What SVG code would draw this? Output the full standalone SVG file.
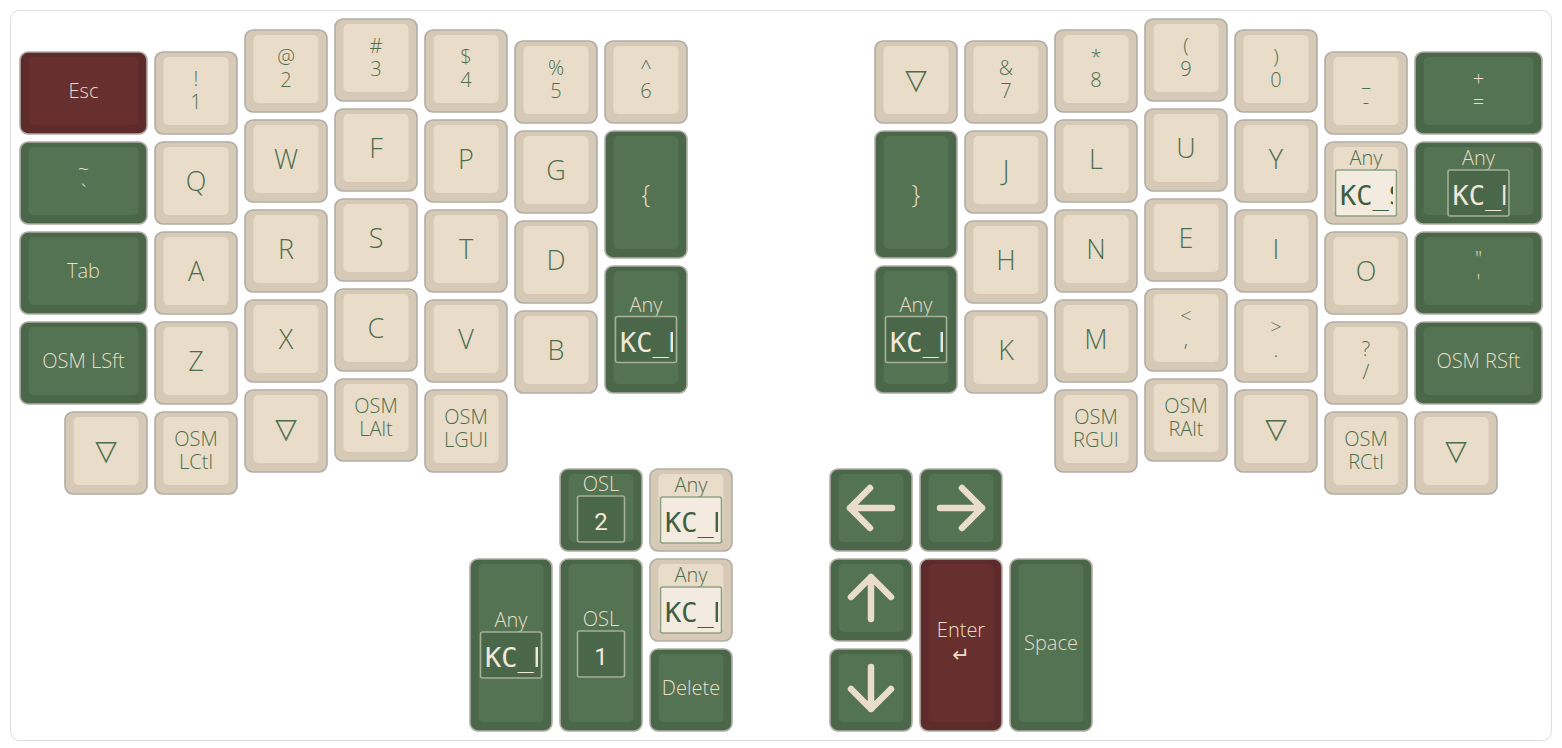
<svg xmlns="http://www.w3.org/2000/svg" width="1562" height="748" viewBox="0 0 1562 748">
<style>
.ko{stroke:#b1ada7;stroke-width:1.6}
.c .ko{fill:#d6cab6}.c .ki{fill:#e9ddc9}.c text{fill:#4e6e4d}
.g .ko{fill:#4b6749}.g .ki{fill:#537352}.g text{fill:#e9ddc9}
.r .ko{fill:#5d2b2b}.r .ki{fill:#682f2f}.r text{fill:#e9ddc9}
text{font-family:"Open Sans","Liberation Sans",sans-serif;font-weight:300;text-anchor:middle}
.big{font-size:27px}.sm{font-size:20px}.br{font-size:25px}
.mono{font-family:"DejaVu Sans Mono","Liberation Mono",monospace;font-weight:400;font-size:27px;text-anchor:start}
.num{font-family:Roboto,"Liberation Sans",sans-serif;font-weight:400;font-size:24px}
.tri{font-family:"DejaVu Sans",sans-serif;font-weight:400;font-size:28px}
.sym{font-family:"DejaVu Sans",sans-serif;font-weight:400;font-size:21px}
.c .kb{fill:#f3ebdf;stroke:#8ea184;stroke-width:1.6}.c text.mono{fill:#3f5f3f}
.g .kb{fill:#4b6749;stroke:#a5b096;stroke-width:1.6}.g text.mono,.g text.num{fill:#f1e8da}
.arr{fill:none;stroke:#e9ddc9;stroke-width:6.5;stroke-linecap:round;stroke-linejoin:round}
</style>
<rect x="10.5" y="10.5" width="1541" height="730" rx="9" fill="#fff" stroke="#dcdcdc"/>

<!-- left col0 -->
<g id="k-esc" class="r"><rect class="ko" x="20" y="52" width="127" height="82" rx="8"/><rect class="ki" x="28.5" y="57" width="110" height="68" rx="5"/><text class="sm" x="83.5" y="98">Esc</text></g>
<g id="k-tilde" class="g"><rect class="ko" x="20" y="142" width="127" height="82" rx="8"/><rect class="ki" x="28.5" y="147" width="110" height="68" rx="5"/><text class="sm"><tspan x="83.5" y="175.5">~</tspan><tspan x="83.5" y="199">`</tspan></text></g>
<g id="k-tab" class="g"><rect class="ko" x="20" y="232" width="127" height="82" rx="8"/><rect class="ki" x="28.5" y="237" width="110" height="68" rx="5"/><text class="sm" x="83.5" y="278">Tab</text></g>
<g id="k-lsft" class="g"><rect class="ko" x="20" y="322" width="127" height="82" rx="8"/><rect class="ki" x="28.5" y="327" width="110" height="68" rx="5"/><text class="sm" x="83.5" y="368">OSM LSft</text></g>
<g id="k-ltri1" class="c"><rect class="ko" x="65" y="412" width="82" height="82" rx="8"/><rect class="ki" x="73.5" y="417" width="65" height="68" rx="5"/><text class="tri" x="106" y="460">▽</text></g>

<!-- col1 -->
<g id="k-1" class="c"><rect class="ko" x="155" y="52" width="82" height="82" rx="8"/><rect class="ki" x="163.5" y="57" width="65" height="68" rx="5"/><text class="sm"><tspan x="196" y="85.5">!</tspan><tspan x="196" y="109">1</tspan></text></g>
<g id="k-q" class="c"><rect class="ko" x="155" y="142" width="82" height="82" rx="8"/><rect class="ki" x="163.5" y="147" width="65" height="68" rx="5"/><text class="big" x="196" y="190.5">Q</text></g>
<g id="k-a" class="c"><rect class="ko" x="155" y="232" width="82" height="82" rx="8"/><rect class="ki" x="163.5" y="237" width="65" height="68" rx="5"/><text class="big" x="196" y="280.5">A</text></g>
<g id="k-z" class="c"><rect class="ko" x="155" y="322" width="82" height="82" rx="8"/><rect class="ki" x="163.5" y="327" width="65" height="68" rx="5"/><text class="big" x="196" y="370.5">Z</text></g>
<g id="k-lctl" class="c"><rect class="ko" x="155" y="412" width="82" height="82" rx="8"/><rect class="ki" x="163.5" y="417" width="65" height="68" rx="5"/><text class="sm"><tspan x="196" y="445.5">OSM</tspan><tspan x="196" y="469">LCtl</tspan></text></g>

<!-- col2 -->
<g id="k-2" class="c"><rect class="ko" x="245" y="30" width="82" height="82" rx="8"/><rect class="ki" x="253.5" y="35" width="65" height="68" rx="5"/><text class="sm"><tspan x="286" y="63.5">@</tspan><tspan x="286" y="87">2</tspan></text></g>
<g id="k-w" class="c"><rect class="ko" x="245" y="120" width="82" height="82" rx="8"/><rect class="ki" x="253.5" y="125" width="65" height="68" rx="5"/><text class="big" x="286" y="168.5">W</text></g>
<g id="k-r" class="c"><rect class="ko" x="245" y="210" width="82" height="82" rx="8"/><rect class="ki" x="253.5" y="215" width="65" height="68" rx="5"/><text class="big" x="286" y="258.5">R</text></g>
<g id="k-x" class="c"><rect class="ko" x="245" y="300" width="82" height="82" rx="8"/><rect class="ki" x="253.5" y="305" width="65" height="68" rx="5"/><text class="big" x="286" y="348.5">X</text></g>
<g id="k-ltri2" class="c"><rect class="ko" x="245" y="390" width="82" height="82" rx="8"/><rect class="ki" x="253.5" y="395" width="65" height="68" rx="5"/><text class="tri" x="286" y="438">▽</text></g>

<!-- col3 -->
<g id="k-3" class="c"><rect class="ko" x="335" y="19" width="82" height="82" rx="8"/><rect class="ki" x="343.5" y="24" width="65" height="68" rx="5"/><text class="sm"><tspan x="376" y="52.5">#</tspan><tspan x="376" y="76">3</tspan></text></g>
<g id="k-f" class="c"><rect class="ko" x="335" y="109" width="82" height="82" rx="8"/><rect class="ki" x="343.5" y="114" width="65" height="68" rx="5"/><text class="big" x="376" y="157.5">F</text></g>
<g id="k-s" class="c"><rect class="ko" x="335" y="199" width="82" height="82" rx="8"/><rect class="ki" x="343.5" y="204" width="65" height="68" rx="5"/><text class="big" x="376" y="247.5">S</text></g>
<g id="k-c" class="c"><rect class="ko" x="335" y="289" width="82" height="82" rx="8"/><rect class="ki" x="343.5" y="294" width="65" height="68" rx="5"/><text class="big" x="376" y="337.5">C</text></g>
<g id="k-lalt" class="c"><rect class="ko" x="335" y="379" width="82" height="82" rx="8"/><rect class="ki" x="343.5" y="384" width="65" height="68" rx="5"/><text class="sm"><tspan x="376" y="412.5">OSM</tspan><tspan x="376" y="436">LAlt</tspan></text></g>

<!-- col4 -->
<g id="k-4" class="c"><rect class="ko" x="425" y="30" width="82" height="82" rx="8"/><rect class="ki" x="433.5" y="35" width="65" height="68" rx="5"/><text class="sm"><tspan x="466" y="63.5">$</tspan><tspan x="466" y="87">4</tspan></text></g>
<g id="k-p" class="c"><rect class="ko" x="425" y="120" width="82" height="82" rx="8"/><rect class="ki" x="433.5" y="125" width="65" height="68" rx="5"/><text class="big" x="466" y="168.5">P</text></g>
<g id="k-t" class="c"><rect class="ko" x="425" y="210" width="82" height="82" rx="8"/><rect class="ki" x="433.5" y="215" width="65" height="68" rx="5"/><text class="big" x="466" y="258.5">T</text></g>
<g id="k-v" class="c"><rect class="ko" x="425" y="300" width="82" height="82" rx="8"/><rect class="ki" x="433.5" y="305" width="65" height="68" rx="5"/><text class="big" x="466" y="348.5">V</text></g>
<g id="k-lgui" class="c"><rect class="ko" x="425" y="390" width="82" height="82" rx="8"/><rect class="ki" x="433.5" y="395" width="65" height="68" rx="5"/><text class="sm"><tspan x="466" y="423.5">OSM</tspan><tspan x="466" y="447">LGUI</tspan></text></g>

<!-- col5 -->
<g id="k-5" class="c"><rect class="ko" x="515" y="41" width="82" height="82" rx="8"/><rect class="ki" x="523.5" y="46" width="65" height="68" rx="5"/><text class="sm"><tspan x="556" y="74.5">%</tspan><tspan x="556" y="98">5</tspan></text></g>
<g id="k-g" class="c"><rect class="ko" x="515" y="131" width="82" height="82" rx="8"/><rect class="ki" x="523.5" y="136" width="65" height="68" rx="5"/><text class="big" x="556" y="179.5">G</text></g>
<g id="k-d" class="c"><rect class="ko" x="515" y="221" width="82" height="82" rx="8"/><rect class="ki" x="523.5" y="226" width="65" height="68" rx="5"/><text class="big" x="556" y="269.5">D</text></g>
<g id="k-b" class="c"><rect class="ko" x="515" y="311" width="82" height="82" rx="8"/><rect class="ki" x="523.5" y="316" width="65" height="68" rx="5"/><text class="big" x="556" y="359.5">B</text></g>

<!-- col6 -->
<g id="k-6" class="c"><rect class="ko" x="605" y="41" width="82" height="82" rx="8"/><rect class="ki" x="613.5" y="46" width="65" height="68" rx="5"/><text class="sm"><tspan x="646" y="74.5">^</tspan><tspan x="646" y="98">6</tspan></text></g>
<g id="k-lbrc" class="g"><rect class="ko" x="605" y="131" width="82" height="127" rx="8"/><rect class="ki" x="613.5" y="136" width="65" height="113" rx="5"/><text class="br" x="646" y="203">{</text></g>
<g id="k-lany" class="g"><rect class="ko" x="605" y="266" width="82" height="127" rx="8"/><rect class="ki" x="613.5" y="271" width="65" height="113" rx="5"/><text class="sm" x="646" y="311.5">Any</text><rect class="kb" x="615.5" y="316.5" width="61" height="46" rx="2"/><svg x="615.5" y="316.5" width="57.5" height="46"><text class="mono" x="4.5" y="35">KC_NO</text></svg></g>

<!-- right R0 -->
<g id="k-rtri1" class="c"><rect class="ko" x="875" y="41" width="82" height="82" rx="8"/><rect class="ki" x="883.5" y="46" width="65" height="68" rx="5"/><text class="tri" x="916" y="89">▽</text></g>
<g id="k-rbrc" class="g"><rect class="ko" x="875" y="131" width="82" height="127" rx="8"/><rect class="ki" x="883.5" y="136" width="65" height="113" rx="5"/><text class="br" x="916" y="203">}</text></g>
<g id="k-rany" class="g"><rect class="ko" x="875" y="266" width="82" height="127" rx="8"/><rect class="ki" x="883.5" y="271" width="65" height="113" rx="5"/><text class="sm" x="916" y="311.5">Any</text><rect class="kb" x="885.5" y="316.5" width="61" height="46" rx="2"/><svg x="885.5" y="316.5" width="57.5" height="46"><text class="mono" x="4.5" y="35">KC_NO</text></svg></g>

<!-- R1 -->
<g id="k-7" class="c"><rect class="ko" x="965" y="41" width="82" height="82" rx="8"/><rect class="ki" x="973.5" y="46" width="65" height="68" rx="5"/><text class="sm"><tspan x="1006" y="74.5">&amp;</tspan><tspan x="1006" y="98">7</tspan></text></g>
<g id="k-j" class="c"><rect class="ko" x="965" y="131" width="82" height="82" rx="8"/><rect class="ki" x="973.5" y="136" width="65" height="68" rx="5"/><text class="big" x="1006" y="179.5">J</text></g>
<g id="k-h" class="c"><rect class="ko" x="965" y="221" width="82" height="82" rx="8"/><rect class="ki" x="973.5" y="226" width="65" height="68" rx="5"/><text class="big" x="1006" y="269.5">H</text></g>
<g id="k-k" class="c"><rect class="ko" x="965" y="311" width="82" height="82" rx="8"/><rect class="ki" x="973.5" y="316" width="65" height="68" rx="5"/><text class="big" x="1006" y="359.5">K</text></g>

<!-- R2 -->
<g id="k-8" class="c"><rect class="ko" x="1055" y="30" width="82" height="82" rx="8"/><rect class="ki" x="1063.5" y="35" width="65" height="68" rx="5"/><text class="sm"><tspan x="1096" y="63.5">*</tspan><tspan x="1096" y="87">8</tspan></text></g>
<g id="k-l" class="c"><rect class="ko" x="1055" y="120" width="82" height="82" rx="8"/><rect class="ki" x="1063.5" y="125" width="65" height="68" rx="5"/><text class="big" x="1096" y="168.5">L</text></g>
<g id="k-n" class="c"><rect class="ko" x="1055" y="210" width="82" height="82" rx="8"/><rect class="ki" x="1063.5" y="215" width="65" height="68" rx="5"/><text class="big" x="1096" y="258.5">N</text></g>
<g id="k-m" class="c"><rect class="ko" x="1055" y="300" width="82" height="82" rx="8"/><rect class="ki" x="1063.5" y="305" width="65" height="68" rx="5"/><text class="big" x="1096" y="348.5">M</text></g>
<g id="k-rgui" class="c"><rect class="ko" x="1055" y="390" width="82" height="82" rx="8"/><rect class="ki" x="1063.5" y="395" width="65" height="68" rx="5"/><text class="sm"><tspan x="1096" y="423.5">OSM</tspan><tspan x="1096" y="447">RGUI</tspan></text></g>

<!-- R3 -->
<g id="k-9" class="c"><rect class="ko" x="1145" y="19" width="82" height="82" rx="8"/><rect class="ki" x="1153.5" y="24" width="65" height="68" rx="5"/><text class="sm"><tspan x="1186" y="52.5">(</tspan><tspan x="1186" y="76">9</tspan></text></g>
<g id="k-u" class="c"><rect class="ko" x="1145" y="109" width="82" height="82" rx="8"/><rect class="ki" x="1153.5" y="114" width="65" height="68" rx="5"/><text class="big" x="1186" y="157.5">U</text></g>
<g id="k-e" class="c"><rect class="ko" x="1145" y="199" width="82" height="82" rx="8"/><rect class="ki" x="1153.5" y="204" width="65" height="68" rx="5"/><text class="big" x="1186" y="247.5">E</text></g>
<g id="k-comma" class="c"><rect class="ko" x="1145" y="289" width="82" height="82" rx="8"/><rect class="ki" x="1153.5" y="294" width="65" height="68" rx="5"/><text class="sm"><tspan x="1186" y="322.5">&lt;</tspan><tspan x="1186" y="346">,</tspan></text></g>
<g id="k-ralt" class="c"><rect class="ko" x="1145" y="379" width="82" height="82" rx="8"/><rect class="ki" x="1153.5" y="384" width="65" height="68" rx="5"/><text class="sm"><tspan x="1186" y="412.5">OSM</tspan><tspan x="1186" y="436">RAlt</tspan></text></g>

<!-- R4 -->
<g id="k-0" class="c"><rect class="ko" x="1235" y="30" width="82" height="82" rx="8"/><rect class="ki" x="1243.5" y="35" width="65" height="68" rx="5"/><text class="sm"><tspan x="1276" y="63.5">)</tspan><tspan x="1276" y="87">0</tspan></text></g>
<g id="k-y" class="c"><rect class="ko" x="1235" y="120" width="82" height="82" rx="8"/><rect class="ki" x="1243.5" y="125" width="65" height="68" rx="5"/><text class="big" x="1276" y="168.5">Y</text></g>
<g id="k-i" class="c"><rect class="ko" x="1235" y="210" width="82" height="82" rx="8"/><rect class="ki" x="1243.5" y="215" width="65" height="68" rx="5"/><text class="big" x="1276" y="258.5">I</text></g>
<g id="k-dot" class="c"><rect class="ko" x="1235" y="300" width="82" height="82" rx="8"/><rect class="ki" x="1243.5" y="305" width="65" height="68" rx="5"/><text class="sm"><tspan x="1276" y="333.5">&gt;</tspan><tspan x="1276" y="357">.</tspan></text></g>
<g id="k-rtri2" class="c"><rect class="ko" x="1235" y="390" width="82" height="82" rx="8"/><rect class="ki" x="1243.5" y="395" width="65" height="68" rx="5"/><text class="tri" x="1276" y="438">▽</text></g>

<!-- R5 -->
<g id="k-minus" class="c"><rect class="ko" x="1325" y="52" width="82" height="82" rx="8"/><rect class="ki" x="1333.5" y="57" width="65" height="68" rx="5"/><text class="sm"><tspan x="1366" y="85.5">_</tspan><tspan x="1366" y="109">-</tspan></text></g>
<g id="k-any-s" class="c"><rect class="ko" x="1325" y="142" width="82" height="82" rx="8"/><rect class="ki" x="1333.5" y="147" width="65" height="68" rx="5"/><text class="sm" x="1366" y="165">Any</text><rect class="kb" x="1335.5" y="170" width="61" height="46" rx="2"/><svg x="1335.5" y="170" width="57.5" height="46"><text class="mono" x="4.5" y="35">KC_SCLN</text></svg></g>
<g id="k-o" class="c"><rect class="ko" x="1325" y="232" width="82" height="82" rx="8"/><rect class="ki" x="1333.5" y="237" width="65" height="68" rx="5"/><text class="big" x="1366" y="280.5">O</text></g>
<g id="k-slash" class="c"><rect class="ko" x="1325" y="322" width="82" height="82" rx="8"/><rect class="ki" x="1333.5" y="327" width="65" height="68" rx="5"/><text class="sm"><tspan x="1366" y="355.5">?</tspan><tspan x="1366" y="379">/</tspan></text></g>
<g id="k-rctl" class="c"><rect class="ko" x="1325" y="412" width="82" height="82" rx="8"/><rect class="ki" x="1333.5" y="417" width="65" height="68" rx="5"/><text class="sm"><tspan x="1366" y="445.5">OSM</tspan><tspan x="1366" y="469">RCtl</tspan></text></g>

<!-- R6 -->
<g id="k-eq" class="g"><rect class="ko" x="1415" y="52" width="127" height="82" rx="8"/><rect class="ki" x="1423.5" y="57" width="110" height="68" rx="5"/><text class="sm"><tspan x="1478.5" y="85.5">+</tspan><tspan x="1478.5" y="109">=</tspan></text></g>
<g id="k-any-r" class="g"><rect class="ko" x="1415" y="142" width="127" height="82" rx="8"/><rect class="ki" x="1423.5" y="147" width="110" height="68" rx="5"/><text class="sm" x="1478.5" y="165">Any</text><rect class="kb" x="1448" y="170" width="61" height="46" rx="2"/><svg x="1448" y="170" width="57.5" height="46"><text class="mono" x="4.5" y="35">KC_NO</text></svg></g>
<g id="k-quote" class="g"><rect class="ko" x="1415" y="232" width="127" height="82" rx="8"/><rect class="ki" x="1423.5" y="237" width="110" height="68" rx="5"/><text class="sm"><tspan x="1478.5" y="265.5">"</tspan><tspan x="1478.5" y="289">'</tspan></text></g>
<g id="k-rsft" class="g"><rect class="ko" x="1415" y="322" width="127" height="82" rx="8"/><rect class="ki" x="1423.5" y="327" width="110" height="68" rx="5"/><text class="sm" x="1478.5" y="368">OSM RSft</text></g>
<g id="k-rtri3" class="c"><rect class="ko" x="1415" y="412" width="82" height="82" rx="8"/><rect class="ki" x="1423.5" y="417" width="65" height="68" rx="5"/><text class="tri" x="1456" y="460">▽</text></g>

<!-- left thumbs -->
<g id="t-any-big" class="g"><rect class="ko" x="470" y="559" width="82" height="172" rx="8"/><rect class="ki" x="478.5" y="564" width="65" height="158" rx="5"/><text class="sm" x="511" y="627">Any</text><rect class="kb" x="480.5" y="632" width="61" height="46" rx="2"/><svg x="480.5" y="632" width="57.5" height="46"><text class="mono" x="4.5" y="35">KC_NO</text></svg></g>
<g id="t-osl2" class="g"><rect class="ko" x="560" y="469" width="82" height="82" rx="8"/><rect class="ki" x="568.5" y="474" width="65" height="68" rx="5"/><text class="sm" x="601" y="491">OSL</text><rect class="kb" x="577.5" y="496" width="47" height="46" rx="2"/><text class="num" x="601" y="530">2</text></g>
<g id="t-osl1" class="g"><rect class="ko" x="560" y="559" width="82" height="172" rx="8"/><rect class="ki" x="568.5" y="564" width="65" height="158" rx="5"/><text class="sm" x="601" y="626">OSL</text><rect class="kb" x="577.5" y="631" width="47" height="46" rx="2"/><text class="num" x="601" y="665">1</text></g>
<g id="t-any1" class="c"><rect class="ko" x="650" y="469" width="82" height="82" rx="8"/><rect class="ki" x="658.5" y="474" width="65" height="68" rx="5"/><text class="sm" x="691" y="492">Any</text><rect class="kb" x="660.5" y="497" width="61" height="46" rx="2"/><svg x="660.5" y="497" width="57.5" height="46"><text class="mono" x="4.5" y="35">KC_NO</text></svg></g>
<g id="t-any2" class="c"><rect class="ko" x="650" y="559" width="82" height="82" rx="8"/><rect class="ki" x="658.5" y="564" width="65" height="68" rx="5"/><text class="sm" x="691" y="582">Any</text><rect class="kb" x="660.5" y="587" width="61" height="46" rx="2"/><svg x="660.5" y="587" width="57.5" height="46"><text class="mono" x="4.5" y="35">KC_NO</text></svg></g>
<g id="t-del" class="g"><rect class="ko" x="650" y="649" width="82" height="82" rx="8"/><rect class="ki" x="658.5" y="654" width="65" height="68" rx="5"/><text class="sm" x="691" y="695">Delete</text></g>

<!-- right thumbs -->
<g id="t-left" class="g"><rect class="ko" x="830" y="469" width="82" height="82" rx="8"/><rect class="ki" x="838.5" y="474" width="65" height="68" rx="5"/><path class="arr" d="M892 508H850M870 488L850 508L870 528"/></g>
<g id="t-right" class="g"><rect class="ko" x="920" y="469" width="82" height="82" rx="8"/><rect class="ki" x="928.5" y="474" width="65" height="68" rx="5"/><path class="arr" d="M940 508H982M962 488L982 508L962 528"/></g>
<g id="t-up" class="g"><rect class="ko" x="830" y="559" width="82" height="82" rx="8"/><rect class="ki" x="838.5" y="564" width="65" height="68" rx="5"/><path class="arr" d="M871 619V577M851 597L871 577L891 597"/></g>
<g id="t-down" class="g"><rect class="ko" x="830" y="649" width="82" height="82" rx="8"/><rect class="ki" x="838.5" y="654" width="65" height="68" rx="5"/><path class="arr" d="M871 667V709M851 689L871 709L891 689"/></g>
<g id="t-enter" class="r"><rect class="ko" x="920" y="559" width="82" height="172" rx="8"/><rect class="ki" x="928.5" y="564" width="65" height="158" rx="5"/><text class="sm"><tspan x="961" y="637">Enter</tspan><tspan class="sym" x="961" y="662">↵</tspan></text></g>
<g id="t-space" class="g"><rect class="ko" x="1010" y="559" width="82" height="172" rx="8"/><rect class="ki" x="1018.5" y="564" width="65" height="158" rx="5"/><text class="sm" x="1051" y="650">Space</text></g>
</svg>
